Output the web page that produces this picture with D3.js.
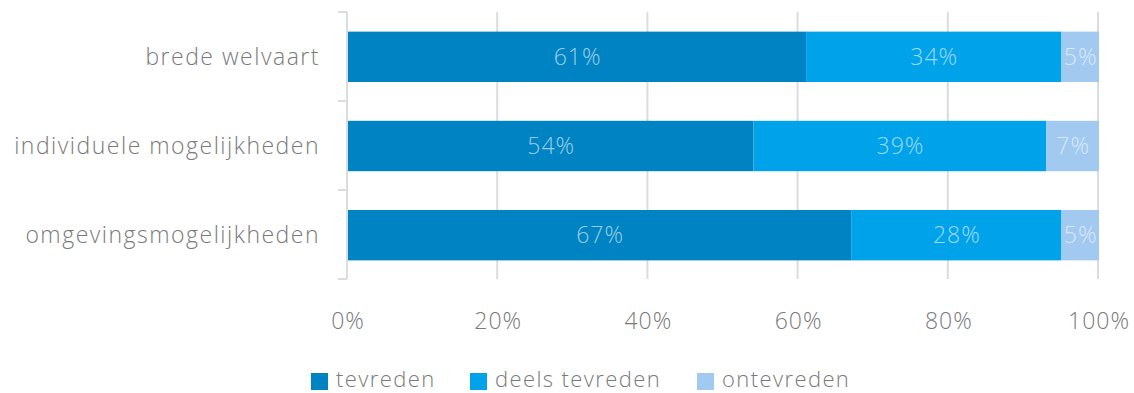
<!DOCTYPE html>
<html>
<head>
<meta charset="utf-8">
<script src="https://cdn.jsdelivr.net/npm/d3@7"></script>
<style>
  html, body { margin: 0; padding: 0; background: #fff; }
  svg { display: block; font-family: "Open Sans", "Lato", sans-serif; }
</style>
</head>
<body>
<svg id="chart" width="1134" height="393"></svg>
<script>
// Tevredenheid per domein (aandeel in %)
const categories = ["brede welvaart", "individuele mogelijkheden", "omgevingsmogelijkheden"];
const seriesNames = ["tevreden", "deels tevreden", "ontevreden"];
const tevreden = [61, 54, 67];
const deelsTevreden = [34, 39, 28];
const ontevreden = [5, 7, 5];
const xTicks = [0, 20, 40, 60, 80, 100];
const colors = ["#0083c3", "#00a2e9", "#a2c9f0"];

const rows = categories.map((c, i) => ({
  cat: c, "tevreden": tevreden[i], "deels tevreden": deelsTevreden[i], "ontevreden": ontevreden[i]
}));
const stacked = d3.stack().keys(seriesNames)(rows);

const svg = d3.select("#chart");
const x = d3.scaleLinear().domain([0, 100]).range([347, 1098]);
const y = d3.scaleBand().domain(categories).range([12, 280]).paddingInner(0.435).paddingOuter(0.22);
const color = d3.scaleOrdinal().domain(seriesNames).range(colors);

// verticale rasterlijnen
svg.append("g").selectAll("line").data(xTicks.slice(1)).join("line")
  .attr("x1", d => x(d)).attr("x2", d => x(d))
  .attr("y1", 12).attr("y2", 279)
  .attr("stroke", "#dcdcdc").attr("stroke-width", 2);

// categorie-as met scheidingsstreepjes
const bounds = [12, 101, 190, 279];
const axisG = svg.append("g");
axisG.append("line").attr("x1", x(0)).attr("x2", x(0)).attr("y1", 12).attr("y2", 279)
  .attr("stroke", "#dcdcdc").attr("stroke-width", 2);
axisG.selectAll("line.tick").data(bounds).join("line").attr("class", "tick")
  .attr("x1", x(0) - 9).attr("x2", x(0)).attr("y1", d => d).attr("y2", d => d)
  .attr("stroke", "#dcdcdc").attr("stroke-width", 2);

// gestapelde balken
const layer = svg.append("g").selectAll("g").data(stacked).join("g")
  .attr("fill", d => color(d.key));
layer.selectAll("rect").data(d => d).join("rect")
  .attr("x", d => x(d[0]) + 1)
  .attr("y", d => y(d.data.cat))
  .attr("width", d => x(d[1]) - x(d[0]))
  .attr("height", y.bandwidth());

// waardelabels
svg.append("g").selectAll("g").data(stacked).join("g")
  .selectAll("text").data(d => d.map(v => ({ v, key: d.key }))).join("text")
  .attr("x", d => (x(d.v[0]) + x(d.v[1])) / 2 + 1.5)
  .attr("y", d => y(d.v.data.cat) + y.bandwidth() / 2)
  .attr("dy", "0.36em")
  .attr("text-anchor", "middle")
  .attr("font-size", 23).attr("font-weight", 300).attr("letter-spacing", 1)
  .attr("fill", "#ffffff").attr("fill-opacity", 0.62)
  .text(d => (d.v[1] - d.v[0]) + "%");

// categorielabels
svg.append("g").selectAll("text").data(categories).join("text")
  .attr("x", 320).attr("y", d => y(d) + y.bandwidth() / 2)
  .attr("dy", "0.34em").attr("text-anchor", "end")
  .attr("font-size", 23).attr("font-weight", 300).attr("letter-spacing", 1.5)
  .attr("fill", "#7a7a7a")
  .text(d => d);

// x-as labels
svg.append("g").selectAll("text").data(xTicks).join("text")
  .attr("x", d => x(d) + 1).attr("y", 321).attr("dy", "0.36em")
  .attr("text-anchor", "middle")
  .attr("font-size", 23).attr("font-weight", 300).attr("letter-spacing", 1)
  .attr("fill", "#7a7a7a")
  .text(d => d + "%");

// legenda
const legendX = [311, 470, 697];
const leg = svg.append("g").selectAll("g").data(seriesNames).join("g")
  .attr("transform", (d, i) => `translate(${legendX[i]},379)`);
leg.append("rect").attr("x", 0).attr("y", -6).attr("width", 17).attr("height", 17)
  .attr("fill", d => color(d));
leg.append("text").attr("x", 25).attr("y", 0).attr("dy", "0.36em")
  .attr("font-size", 22).attr("font-weight", 300).attr("letter-spacing", 1.4)
  .attr("fill", "#7a7a7a")
  .text(d => d);
</script>
</body>
</html>
